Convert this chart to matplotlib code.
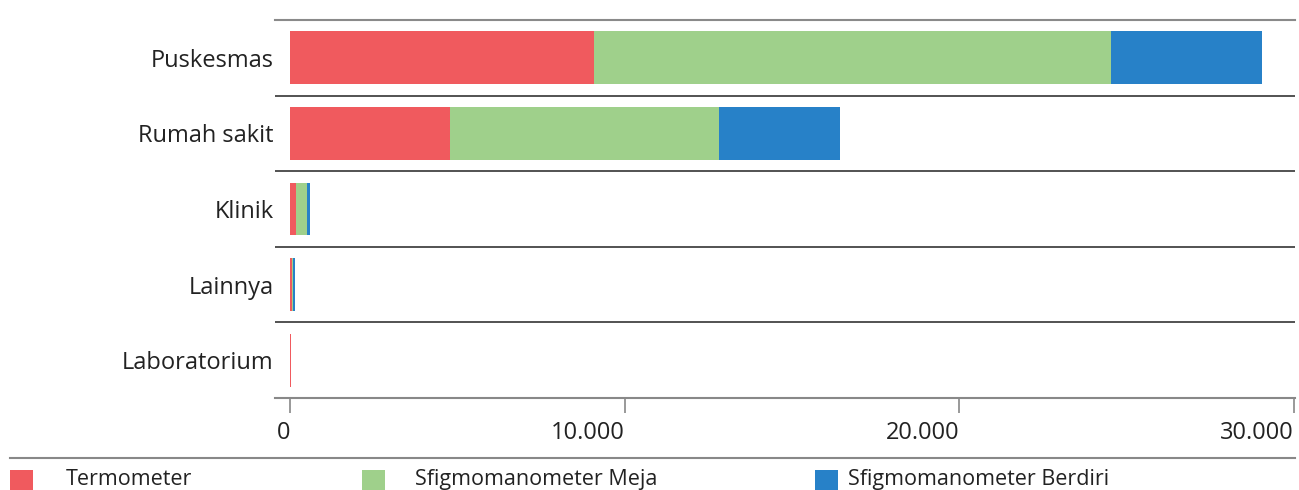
import matplotlib
matplotlib.use("Agg")
import matplotlib.pyplot as plt
from matplotlib.patches import Rectangle
import numpy as np

plt.rcParams['font.family'] = ['Open Sans', 'DejaVu Sans']

categories = ["Puskesmas", "Rumah sakit", "Klinik", "Lainnya", "Laboratorium"]
series_names = ["Termometer", "Sfigmomanometer Meja", "Sfigmomanometer Berdiri"]
termometer = [9080, 4780, 180, 50, 20]
sfig_meja = [15450, 8040, 330, 40, 0]
sfig_berdiri = [4510, 3615, 90, 60, 0]
colors = ["#F05A5E", "#9FD08B", "#2781C8"]
x_ticks = [0, 10000, 20000, 30000]
x_tick_labels = ["0", "10.000", "20.000", "30.000"]

W, H = 1299, 490
fig = plt.figure(figsize=(W / 100, H / 100), dpi=100)
ax = fig.add_axes([275 / W, 1 - 398 / H, (1295 - 275) / W, (398 - 20) / H])

y = np.arange(len(categories))
left = np.zeros(len(categories))
for vals, col in zip([termometer, sfig_meja, sfig_berdiri], colors):
    ax.barh(y, vals, left=left, height=0.7, color=col, linewidth=0)
    left += np.array(vals)

px = 30000 / (1294 - 290)
ax.set_xlim(-15 * px, 30000 + 1 * px)
ax.set_ylim(len(categories) - 0.5, -0.5)

# row separators
for k in range(1, len(categories)):
    ax.axhline(k - 0.5, color="#444444", lw=1.3, zorder=0)

for s in ["left", "right"]:
    ax.spines[s].set_visible(False)
ax.spines["top"].set_color("#8a8a8a")
ax.spines["top"].set_linewidth(1.5)
ax.spines["bottom"].set_color("#888888")
ax.spines["bottom"].set_linewidth(1.5)

ax.set_yticks(y)
ax.set_yticklabels(categories, fontsize=17, color="#222222")
ax.tick_params(axis="y", length=0, pad=1)

ax.set_xticks(x_ticks)
ax.set_xticklabels(x_tick_labels, fontsize=17, color="#222222", ha="right")
ax.tick_params(axis="x", length=10.5, width=1.2, color="#888888", pad=6)

# legend strip
fig.add_artist(plt.Line2D([10 / W, 1295 / W], [1 - 458 / H, 1 - 458 / H],
                          color="#888888", lw=1.5, transform=fig.transFigure))
sw_x = [10, 362, 815]
tx_x = [66, 415, 848]
for name, col, sx, tx in zip(series_names, colors, sw_x, tx_x):
    fig.add_artist(Rectangle((sx / W, 1 - 492 / H), 23 / W, 22 / H,
                             color=col, lw=0, transform=fig.transFigure))
    fig.text(tx / W, 1 - 479 / H, name, fontsize=15.5, color="#222222",
             va="center", ha="left")

fig.savefig("out.png", dpi=100)
